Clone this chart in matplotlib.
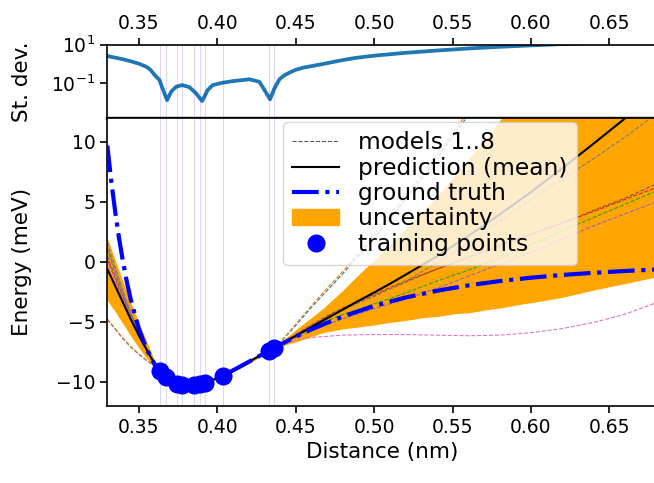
import numpy as np
import matplotlib
matplotlib.use('Agg')
import matplotlib.pyplot as plt
from matplotlib.lines import Line2D
from matplotlib.patches import Patch
from matplotlib.ticker import FixedLocator, NullLocator, LogFormatterSciNotation

# training points (distance in nm, energy in meV)
train_x = [0.3634, 0.3672, 0.3745, 0.3777, 0.3855, 0.3889, 0.3925, 0.4035, 0.4329, 0.4363]
train_y = [-9.06, -9.57, -10.14, -10.24, -10.27, -10.18, -10.05, -9.47, -7.39, -7.15]

# ground truth curve
gt_x = [0.330, 0.3325, 0.335, 0.3375, 0.340, 0.3425, 0.345, 0.350, 0.355, 0.360, 0.365, 0.370,
        0.375, 0.380, 0.385, 0.390, 0.395, 0.400, 0.410, 0.420, 0.430, 0.440, 0.450, 0.460,
        0.480, 0.500, 0.520, 0.540, 0.560, 0.580, 0.600, 0.620, 0.640, 0.660, 0.680]
gt_y = [9.68, 6.75, 4.19, 1.95, 0.0, -1.70, -3.17, -5.53, -7.26, -8.49, -9.33, -9.87,
        -10.17, -10.29, -10.27, -10.15, -9.94, -9.68, -9.04, -8.33, -7.61, -6.90, -6.24, -5.62,
        -4.55, -3.67, -2.97, -2.41, -1.96, -1.60, -1.32, -1.09, -0.91, -0.76, -0.63]

# ensemble members
mx = [0.330, 0.335, 0.340, 0.345, 0.350, 0.355, 0.360, 0.365, 0.370, 0.380, 0.390, 0.400,
      0.410, 0.420, 0.430, 0.440, 0.450, 0.460, 0.470, 0.480, 0.500, 0.520, 0.540, 0.560,
      0.580, 0.600, 0.620, 0.640, 0.660, 0.680]
model1 = [-4.8, -5.6, -6.4, -7.1, -7.7, -8.2, -8.7, -9.25, -9.8, -10.27, -10.17, -9.7,
          -9.05, -8.32, -7.55, -6.75, -5.3, -3.8, -2.4, -1.0, 2.0, 5.2, 8.6, 12.2,
          16.0, 20.0, 24.0, 28.0, 32.0, 36.0]
model2 = [-4.75, -5.55, -6.35, -7.05, -7.65, -8.17, -8.68, -9.24, -9.8, -10.27, -10.16, -9.69,
          -9.04, -8.31, -7.54, -6.72, -5.2, -3.65, -2.2, -0.8, 2.3, 5.5, 8.9, 12.5,
          16.3, 20.3, 24.3, 28.3, 32.3, 36.3]
model3 = [1.2, -0.74, -2.59, -4.31, -5.87, -7.21, -8.4, -9.32, -9.87, -10.29, -10.15, -9.68,
          -9.04, -8.33, -7.61, -6.9, -6.2, -5.55, -4.9, -4.4, -3.5, -2.6, -1.6, -0.7,
          0.3, 1.4, 2.6, 3.7, 4.8, 5.9]
model4 = [0.2, -1.44, -3.04, -4.58, -6.0, -7.26, -8.4, -9.34, -9.88, -10.3, -10.16, -9.69,
          -9.05, -8.33, -7.6, -6.88, -6.05, -5.25, -4.5, -3.85, -2.7, -1.6, -0.6, 0.35,
          1.3, 2.3, 3.25, 4.2, 5.2, 6.2]
model5 = [1.6, -0.46, -2.41, -4.21, -5.81, -7.19, -8.4, -9.32, -9.87, -10.29, -10.15, -9.68,
          -9.05, -8.34, -7.62, -6.92, -6.3, -5.75, -5.2, -4.75, -3.9, -3.1, -2.2, -1.2,
          -0.2, 0.8, 1.9, 3.0, 4.0, 5.0]
model6 = [0.5, -1.23, -2.9, -4.5, -5.96, -7.24, -8.4, -9.33, -9.87, -10.29, -10.15, -9.68,
          -9.04, -8.33, -7.6, -6.89, -6.1, -5.35, -4.6, -4.0, -2.8, -1.7, -0.6, 0.4,
          1.4, 2.3, 3.2, 4.3, 5.3, 6.5]
model7 = [0.0, -1.58, -3.13, -4.64, -6.02, -7.27, -8.4, -9.33, -9.87, -10.29, -10.15, -9.69,
          -9.06, -8.36, -7.66, -6.98, -6.5, -6.3, -6.2, -6.1, -6.05, -6.05, -6.1, -6.15,
          -6.1, -5.9, -5.55, -5.05, -4.35, -3.4]
model8 = [1.0, -0.88, -2.68, -4.37, -5.89, -7.22, -8.4, -9.33, -9.87, -10.29, -10.15, -9.68,
          -9.04, -8.33, -7.6, -6.88, -6.05, -5.3, -4.55, -3.9, -2.9, -1.6, -0.1, 1.6,
          3.4, 5.2, 6.9, 8.6, 10.4, 12.3]
models = [model1, model2, model3, model4, model5, model6, model7, model8]

# ensemble mean and standard deviation
px = [0.330, 0.335, 0.340, 0.345, 0.350, 0.355, 0.3575, 0.360, 0.3632, 0.3664, 0.3681, 0.3707,
      0.3738, 0.3777, 0.3823, 0.3866, 0.3904, 0.3940, 0.3972, 0.4035, 0.4100, 0.4163, 0.4206,
      0.4269, 0.4308, 0.4337, 0.4365, 0.4397, 0.4425, 0.4460, 0.4500, 0.4550, 0.4673, 0.4800,
      0.4886, 0.5000, 0.5098, 0.5200, 0.5308, 0.5400, 0.5523, 0.5600, 0.5735, 0.5800, 0.5946,
      0.6000, 0.6160, 0.6200, 0.6400, 0.6600, 0.6800]
mean = [-0.6, -2.0, -3.4, -4.8, -6.1, -7.3, -7.9, -8.45, -9.0, -9.45, -9.65, -9.91,
        -10.11, -10.25, -10.30, -10.24, -10.13, -9.99, -9.83, -9.48, -9.04, -8.60, -8.29,
        -7.83, -7.54, -7.33, -7.13, -6.90, -6.72, -6.45, -6.17, -5.80, -4.90, -3.98,
        -3.35, -2.55, -1.85, -1.08, -0.25, 0.45, 1.50, 2.15, 3.35, 3.95, 5.30,
        5.80, 7.40, 7.80, 9.85, 11.95, 14.1]
std = [2.6, 2.14, 1.76, 1.38, 1.05, 0.71, 0.50, 0.28, 0.148, 0.030, 0.0135, 0.037,
       0.066, 0.081, 0.063, 0.030, 0.012, 0.045, 0.081, 0.107, 0.13, 0.148, 0.162,
       0.12, 0.037, 0.0148, 0.055, 0.162, 0.25, 0.355, 0.5, 0.65, 1.0, 1.6,
       2.1, 2.7, 3.2, 3.8, 4.4, 5.0, 5.8, 6.4, 7.3, 7.8, 8.8,
       9.2, 10.45, 10.75, 12.2, 13.75, 15.35]

colors = ['C0', 'C1', 'C2', 'C3', 'C4', 'C5', 'C6', 'C7']

plt.rcParams['font.family'] = 'DejaVu Sans'
plt.rcParams['axes.linewidth'] = 1.2
plt.rcParams['xtick.major.width'] = 1.2
plt.rcParams['ytick.major.width'] = 1.2
plt.rcParams['xtick.major.size'] = 5
plt.rcParams['ytick.major.size'] = 5

fig = plt.figure(figsize=(6.54, 4.83), dpi=100)
ax_std = fig.add_axes([0.1641, 0.7563, 0.8397, 0.1511])
ax = fig.add_axes([0.1641, 0.1594, 0.8397, 0.5969])

# top panel: standard deviation
ax_std.plot(px, std, color='C0', lw=2.7)
for t in train_x:
    ax_std.axvline(t, color='blue', lw=0.8, alpha=0.15)
ax_std.set_yscale('log')
ax_std.set_ylim(1.65e-3, 10)
ax_std.set_xlim(0.33, 0.68)
ax_std.yaxis.set_major_locator(FixedLocator([0.1, 10]))
ax_std.yaxis.set_major_formatter(LogFormatterSciNotation())
ax_std.yaxis.set_minor_locator(NullLocator())
ax_std.xaxis.tick_top()
ax_std.set_xticks([0.35, 0.40, 0.45, 0.50, 0.55, 0.60, 0.65])
ax_std.tick_params(labelsize=13.5)
ax_std.spines['bottom'].set_linewidth(2.4)
ax_std.set_ylabel('St. dev.', fontsize=15.5)

# bottom panel: energies
mean_a = np.array(mean)
std_a = np.array(std)
ax.fill_between(px, mean_a - std_a, mean_a + std_a, color='orange', lw=0, zorder=1)
for m, c in zip(models, colors):
    ax.plot(mx, m, '--', color=c, lw=0.8, zorder=2)
ax.plot(px, mean, color='black', lw=1.5, zorder=3)
ax.plot(gt_x, gt_y, '-.', color='blue', lw=3.0, zorder=4)
ax.plot(train_x, train_y, 'o', color='blue', ms=12, zorder=5)
for t in train_x:
    ax.axvline(t, color='blue', lw=0.8, alpha=0.15, zorder=0)
ax.set_xlim(0.33, 0.68)
ax.set_ylim(-12, 12)
ax.set_xticks([0.35, 0.40, 0.45, 0.50, 0.55, 0.60, 0.65])
ax.set_yticks([-10, -5, 0, 5, 10])
ax.tick_params(labelsize=13.5)
ax.set_xlabel('Distance (nm)', fontsize=15.5)
ax.set_ylabel('Energy (meV)', fontsize=15.5)

handles = [
    Line2D([], [], ls='--', color='0.35', lw=0.8),
    Line2D([], [], color='black', lw=1.5),
    Line2D([], [], ls='-.', color='blue', lw=3.0),
    Patch(color='orange'),
    Line2D([], [], marker='o', ls='', color='blue', ms=12),
]
labels = ['models 1..8', 'prediction (mean)', 'ground truth', 'uncertainty', 'training points']
ax.legend(handles, labels, loc='upper left', bbox_to_anchor=(283 / 654, 1 - 122 / 483),
          bbox_transform=fig.transFigure, borderaxespad=0, fontsize=16.8, labelspacing=0.1)

ax_std.yaxis.set_label_coords(-0.138, 0.5)
ax.yaxis.set_label_coords(-0.138, 0.5)
fig.savefig('out.png', dpi=100)
